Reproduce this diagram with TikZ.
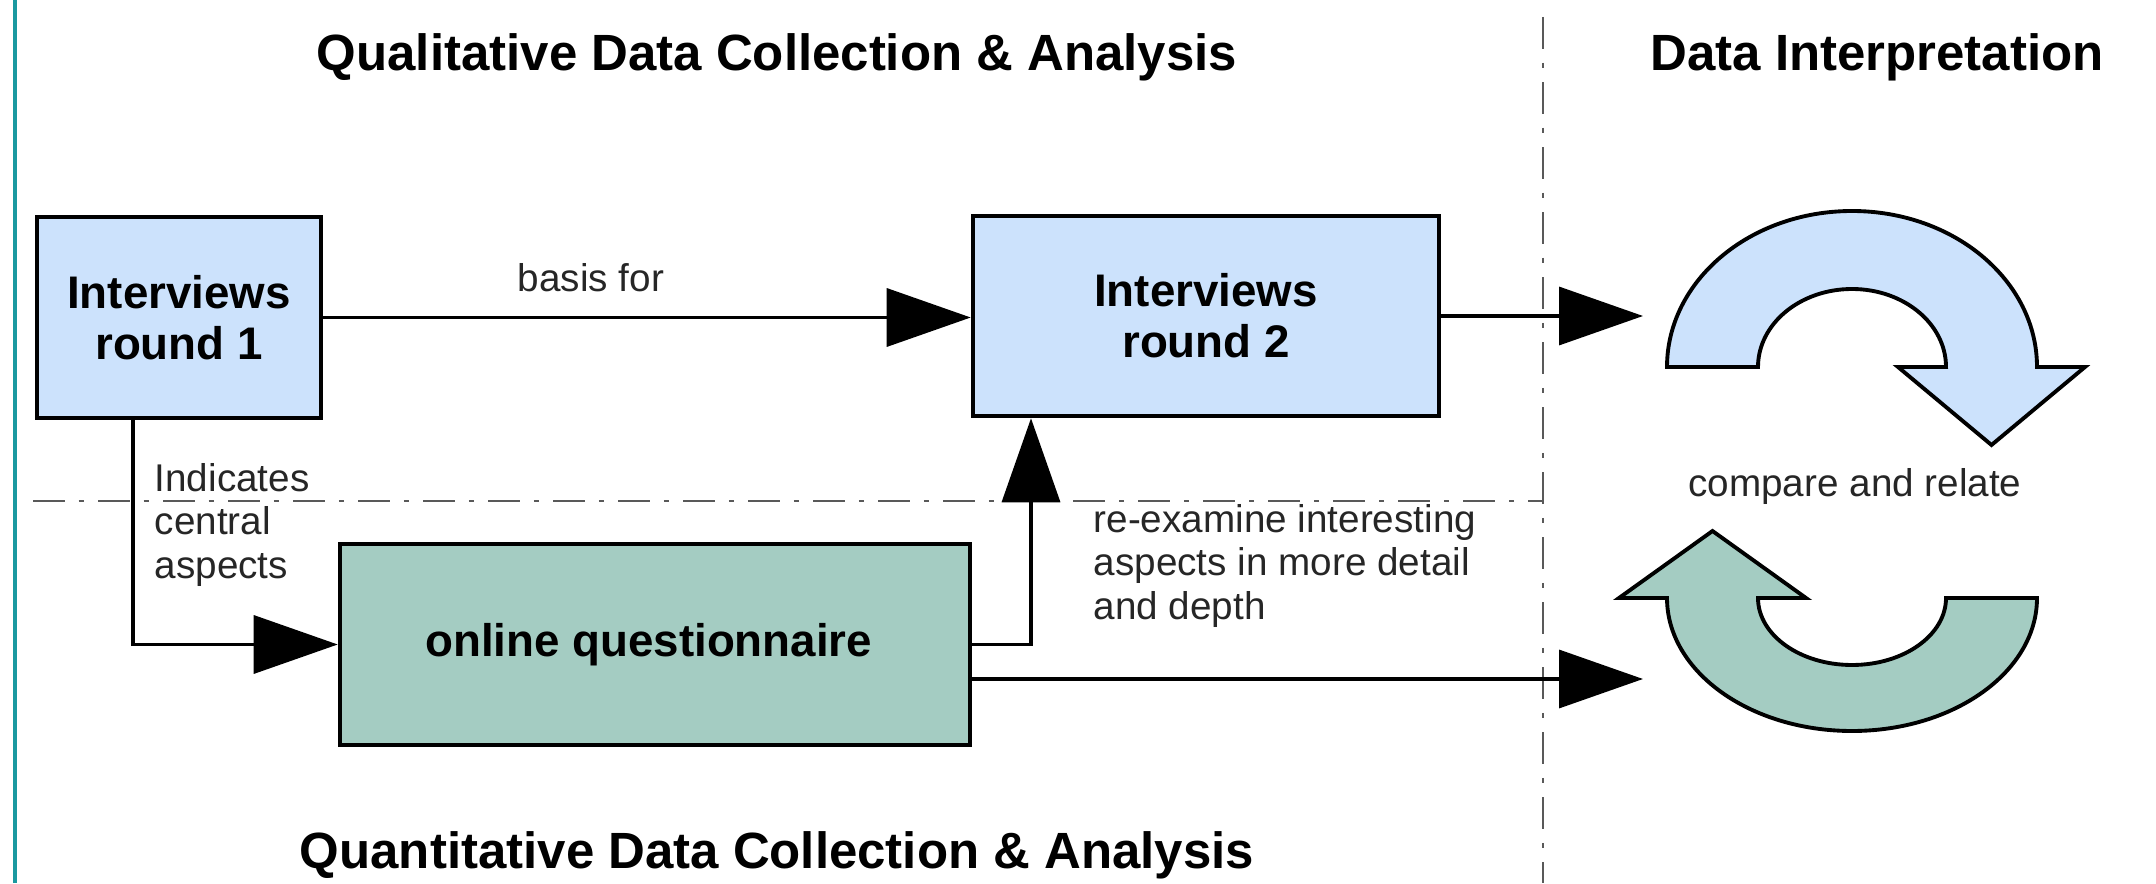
\documentclass[tikz,border=0pt]{standalone}
\usepackage{fontspec}
\setmainfont{Liberation Sans}
\usepackage{tikz}
\usetikzlibrary{positioning,arrows.meta}

\definecolor{boxblue}{HTML}{CCE2FC}
\definecolor{boxgreen}{HTML}{A4CCC2}
\definecolor{bordo}{HTML}{1A99A0}

\begin{document}
\begin{tikzpicture}[
        box/.style={draw, line width=1.3pt, align=center, inner sep=0pt,
            font=\fontsize{13}{14.5}\selectfont\bfseries},
        titolo/.style={font=\fontsize{14.5}{17}\selectfont\bfseries},
        etichetta/.style={font=\fontsize{11}{12.5}\selectfont, text=black!85, inner sep=0pt, align=left},
        freccia/.style={line width=1pt, -{Triangle[length=0.84cm, width=0.58cm]}},
        separatore/.style={line width=0.6pt, black!65, dash pattern=on 9pt off 4pt on 1.5pt off 4pt},
        ciclo/.style={draw, line width=1.1pt, line join=miter}
    ]
        \useasboundingbox (0,0) rectangle (21.56,8.83);

        % Bordo sinistro
        \draw[bordo, line width=1.1pt] (0.147,0) -- (0.147,8.83);

        % Linee di separazione
        \draw[separatore] (15.43,8.66) -- (15.43,0);
        \draw[separatore] (0.33,3.82) -- (15.43,3.82);

        % Titoli delle aree
        \node[titolo] (qual_title) at (7.77,8.26) {Qualitative Data Collection \& Analysis};
        \node[titolo] (interp_title) at (18.77,8.26) {Data Interpretation};
        \node[titolo] (quant_title) at (7.77,0.28) {Quantitative Data Collection \& Analysis};

        % Box (interviste e questionario)
        \node[box, fill=boxblue, minimum width=2.84cm, minimum height=2.01cm] (round_one) at (1.79,5.655) {
            Interviews \\ round 1
        };
        \node[box, fill=boxblue, minimum width=4.66cm, minimum height=2.0cm] (round_two) at (12.06,5.67) {
            Interviews \\ round 2
        };
        \node[box, fill=boxgreen, minimum width=6.30cm, minimum height=2.01cm] (questionnaire) at (6.55,2.385) {
            online questionnaire
        };

        % Etichette
        \node[etichetta] (basis_label) at (5.91,6.05) {basis for};
        \node[etichetta, anchor=west] (aspects_label) at (1.54,3.58) {
            Indicates \\ central \\ aspects
        };
        \node[etichetta, anchor=west] (detail_label) at (10.93,3.17) {
            re-examine interesting \\ aspects in more detail \\ and depth
        };
        \node[etichetta] (compare_label) at (18.55,3.96) {compare and relate};

        % Frecce circolari
        \filldraw[ciclo, fill=boxblue] (16.67,5.16)
            arc[start angle=180, end angle=0, x radius=1.85, y radius=1.56]
            -- (20.85,5.16) -- (19.915,4.38) -- (18.98,5.16) -- (19.46,5.16)
            arc[start angle=0, end angle=180, x radius=0.94, y radius=0.78] -- cycle;
        \filldraw[ciclo, fill=boxgreen] (20.37,2.85)
            arc[start angle=0, end angle=-180, x radius=1.85, y radius=1.33]
            -- (16.19,2.85) -- (17.125,3.52) -- (18.06,2.85) -- (17.58,2.85)
            arc[start angle=180, end angle=360, x radius=0.94, y radius=0.67] -- cycle;

        \coordinate (to_top) at (16.43,5.67);
        \coordinate (to_bottom) at (16.43,2.04);

        % Frecce
        \draw[freccia] (round_one.east) -- (round_one.east -| round_two.west);
        \draw[freccia] ([xshift=-0.46cm]round_one.south) |- (questionnaire.west);
        \draw[freccia] (questionnaire.east) -| ([xshift=-1.75cm]round_two.south);
        \draw[freccia] (round_two.east) -- (to_top);
        \draw[freccia] (questionnaire.east |- to_bottom) -- (to_bottom);
    \end{tikzpicture}
\end{document}
